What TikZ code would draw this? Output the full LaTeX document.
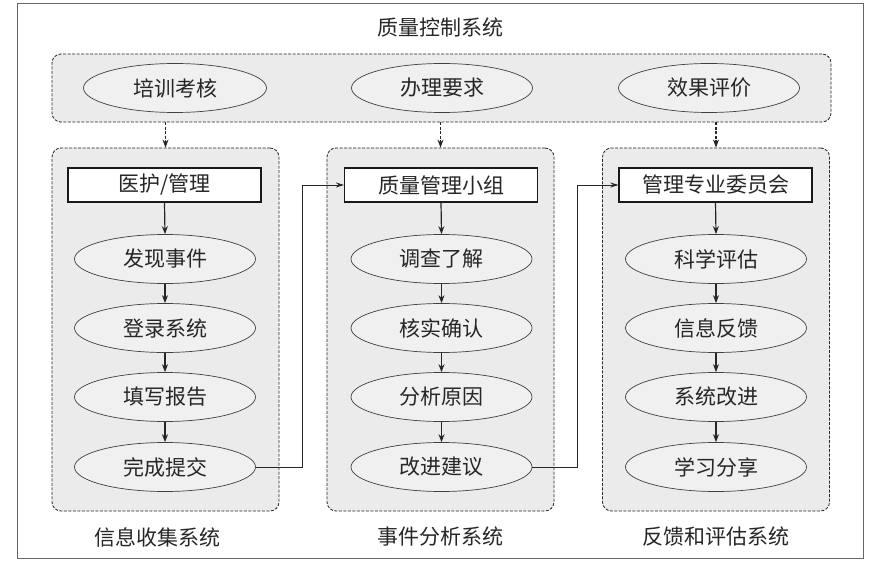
\documentclass[tikz,border=0pt]{standalone}
\usepackage{fontspec}
\setmainfont{Noto Sans CJK SC}
\usetikzlibrary{shapes.geometric,arrows.meta}
\begin{document}
\begin{tikzpicture}[x=1pt,y=-1pt,
  txt/.style={font=\fontsize{21}{24}\selectfont, text=black!85},
  panel/.style={draw=black!85, dashed, dash pattern=on 3pt off 1.5pt, fill=black!8, rounded corners=9pt, line width=0.8pt, inner sep=0pt},
  ell/.style={ellipse, draw=black!75, fill=black!6, minimum width=181pt, minimum height=49pt, inner sep=0pt, line width=0.7pt, txt},
  rbox/.style={rectangle, draw=black!90, fill=white, minimum width=193pt, minimum height=34pt, inner sep=0pt, line width=1.1pt, txt},
  flow/.style={-{Stealth[length=8pt,width=6pt]}, line width=1.2pt, draw=black!85},
  thin flow/.style={-{Stealth[length=8pt,width=5pt]}, line width=0.8pt, draw=black!85},
  dflow/.style={flow, dash pattern=on 3pt off 1.5pt},
  lbl/.style={txt, font=\fontsize{21}{24}\selectfont}]
\useasboundingbox (0,0) rectangle (888,572);
\draw[black!60, line width=1pt] (17,4) rectangle (863,558);

\node[lbl] (title) at (440,27) {质量控制系统};

% top panel
\node[panel, minimum width=779pt, minimum height=68pt] (top) at (441.5,88) {};
\node[ell, minimum width=183pt] (t1) at (175,88) {培训考核};
\node[ell, minimum width=181pt] (t2) at (442,88) {办理要求};
\node[ell, minimum width=181pt] (t3) at (709,88) {效果评价};

% column panels
\node[panel, minimum width=227pt, minimum height=363pt] (colA) at (165.5,329.5) {};
\node[panel, minimum width=227pt, minimum height=363pt] (colB) at (440.5,329.5) {};
\node[panel, minimum width=227pt, minimum height=363pt] (colC) at (716,329.5) {};

\draw[dflow] (top.south -| colA.north) -- (colA.north);
\draw[dflow] (top.south -| colB.north) -- (colB.north);
\draw[dflow] (top.south -| colC.north) -- (colC.north);

% column A
\node[rbox] (a0) at (164.5,185) {医护/管理};
\node[ell] (a1) at (165,259) {发现事件};
\node[ell] (a2) at (165,328) {登录系统};
\node[ell] (a3) at (165,397) {填写报告};
\node[ell] (a4) at (165,467) {完成提交};
% column B
\node[rbox] (b0) at (441,185) {质量管理小组};
\node[ell] (b1) at (441.5,259) {调查了解};
\node[ell] (b2) at (441.5,328) {核实确认};
\node[ell] (b3) at (441.5,397) {分析原因};
\node[ell] (b4) at (441.5,467) {改进建议};
% column C
\node[rbox] (c0) at (715.5,185) {管理专业委员会};
\node[ell] (c1) at (716,259) {科学评估};
\node[ell] (c2) at (716,328) {信息反馈};
\node[ell] (c3) at (716,397) {系统改进};
\node[ell] (c4) at (716,467) {学习分享};

\foreach \p in {a,b,c}{
  \draw[flow] (\p0.south) -- (\p1.north);
  \draw[flow] (\p1.south) -- (\p2.north);
  \draw[flow] (\p2.south) -- (\p3.north);
  \draw[flow] (\p3.south) -- (\p4.north);
}

\coordinate (j1) at (302,467);
\coordinate (j2) at (577,467);
\draw[thin flow] (a4.east) -- (j1) |- (b0.west);
\draw[thin flow] (b4.east) -- (j2) |- (c0.west);

\node[lbl] (la) at (157,537) {信息收集系统};
\node[lbl] (lb) at (440,537) {事件分析系统};
\node[lbl] (lc) at (716,537) {反馈和评估系统};
\end{tikzpicture}
\end{document}
